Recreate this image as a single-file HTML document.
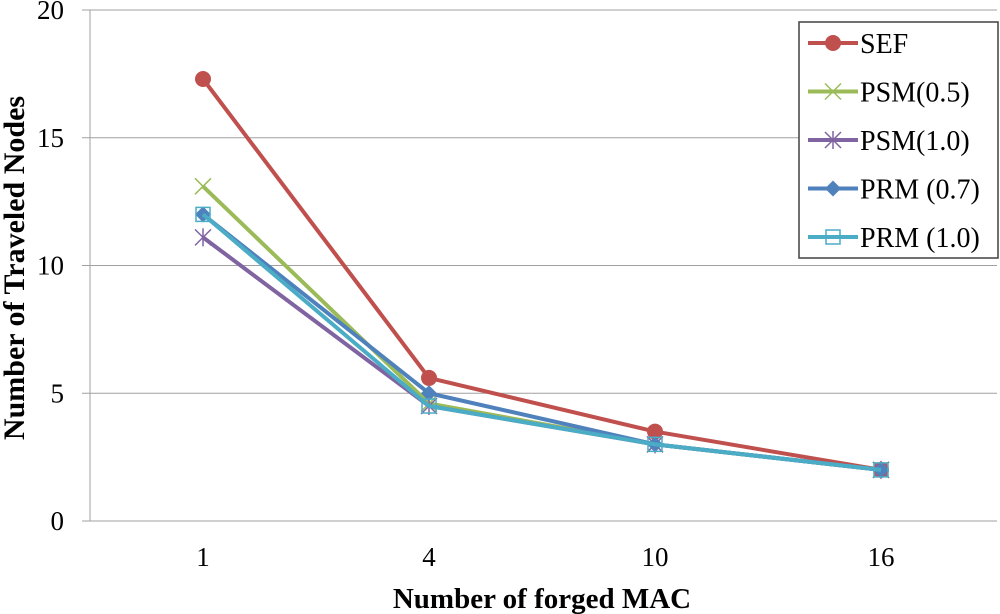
<!DOCTYPE html>
<html><head><meta charset="utf-8"><style>
body{margin:0;background:#fff;}
svg{display:block;font-family:"Liberation Serif",serif;}
</style></head><body>
<svg id="chart" width="1000" height="614">
<g id="grid"></g><g id="axes"></g><g id="series"></g><g id="legend"></g>
<text x="542" y="608" text-anchor="middle" font-size="29" font-weight="bold">Number of forged MAC</text>
<text transform="translate(24,268) rotate(-90)" text-anchor="middle" font-size="30" font-weight="bold">Number of Traveled Nodes</text>
</svg>
<script>
const categories=["1","4","10","16"];
const yTicks=[0,5,10,15,20];
const seriesNames=["SEF","PSM(0.5)","PSM(1.0)","PRM (0.7)","PRM (1.0)"];
const sef=[17.3,5.6,3.5,2.0];
const psm05=[13.1,4.6,3.0,2.0];
const psm10=[11.1,4.5,3.0,2.0];
const prm07=[12.0,5.0,3.0,2.0];
const prm10=[12.0,4.5,3.0,2.0];
const colors=["#c0504d","#9bbb59","#8064a2","#4f81bd","#4bacc6"];
const markers=["circle","x","star","diamond","square"];
const allSeries=[sef,psm05,psm10,prm07,prm10];
const NS="http://www.w3.org/2000/svg";
const X0=90,X1=994,Y0=521,Y1=10;
const xs=i=>X0+(X1-X0)/categories.length*(i+0.5);
const ys=v=>Y0-(Y0-Y1)*v/20;
function mk(t,a,p){const e=document.createElementNS(NS,t);for(const k in a)e.setAttribute(k,a[k]);p.appendChild(e);return e;}
const grid=document.getElementById('grid'),axes=document.getElementById('axes');
yTicks.forEach(v=>{
 const l=mk('line',{x1:82,x2:997,y1:ys(v),y2:ys(v),stroke:'#a0a0a0','stroke-width':1},grid);
 
 
 const t=mk('text',{x:64,y:ys(v)+9,'text-anchor':'end','font-size':27},axes);t.textContent=v;
 
 
});
const ya=mk('line',{x1:X0,x2:X0,y1:Y1,y2:Y0,stroke:'#a0a0a0','stroke-width':1},axes);


categories.forEach((c,i)=>{
 const t=mk('text',{x:xs(i),y:566,'text-anchor':'middle','font-size':27},axes);t.textContent=c;
 
 
});
function marker(type,x,y,col,p){
 let e;
 if(type==='circle')e=mk('circle',{cx:x,cy:y,r:8,fill:col},p);
 else if(type==='x')e=mk('path',{d:`M${x-8},${y-8}L${x+8},${y+8}M${x-8},${y+8}L${x+8},${y-8}`,stroke:col,'stroke-width':1.5,fill:'none'},p);
 else if(type==='star')e=mk('path',{d:`M${x-8},${y-8}L${x+8},${y+8}M${x-8},${y+8}L${x+8},${y-8}M${x},${y-9}L${x},${y+9}`,stroke:col,'stroke-width':1.5,fill:'none'},p);
 else if(type==='diamond')e=mk('path',{d:`M${x},${y-8}L${x+8},${y}L${x},${y+8}L${x-8},${y}Z`,fill:col},p);
 else e=mk('rect',{x:x-7,y:y-7,width:14,height:14,fill:'none',stroke:col,'stroke-width':1.5},p);
 return e;
}
const sg=document.getElementById('series');
allSeries.forEach((s,k)=>{
 const g=mk('g',{},sg);
 
 
 const pl=mk('polyline',{points:s.map((v,i)=>xs(i)+','+ys(v)).join(' '),fill:'none',stroke:colors[k],'stroke-width':4,'stroke-linejoin':'round'},g);
 
 
 s.forEach((v,i)=>{const m=marker(markers[k],xs(i),ys(v),colors[k],g);
  
  });
});
const lg=document.getElementById('legend');
const box=mk('rect',{x:799,y:22,width:199,height:236,fill:'#fff',stroke:'#404040','stroke-width':1.5},lg);


seriesNames.forEach((n,k)=>{
 const y=43+k*48.5;
 const g=mk('g',{},lg);
 
 
 mk('line',{x1:808,x2:858,y1:y,y2:y,stroke:colors[k],'stroke-width':4},g);
 marker(markers[k],833,y,colors[k],g);
 const t=mk('text',{x:860,y:y+10,'font-size':28},g);t.textContent=n;
});
</script>
</body></html>
